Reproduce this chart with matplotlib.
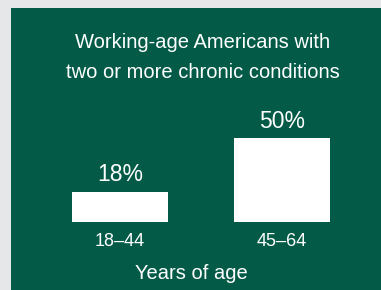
import matplotlib
matplotlib.use("Agg")
import matplotlib.pyplot as plt

# data
age_groups = ["18\u201344", "45\u201364"]
pct_chronic = [18, 50]

green = "#035B47"
plt.rcParams["font.family"] = ["Liberation Sans", "DejaVu Sans"]

W, H = 381, 290
fig = plt.figure(figsize=(W / 100, H / 100), dpi=100)
fig.patch.set_facecolor("#E6E7E8")

# green panel (pixels: x 11..381, y 8..290 from top)
ax = fig.add_axes([11 / W, 0, 370 / W, (H - 8) / H])
ax.set_facecolor(green)
for s in ax.spines.values():
    s.set_visible(False)
ax.set_xticks([])
ax.set_yticks([])

xs = range(len(age_groups))
ax.bar(xs, pct_chronic, width=0.593, color="white")
ax.set_xlim(-0.673, 1.611)
ax.set_ylim(-40.5, 127.4)

for x, v, lab in zip(xs, pct_chronic, age_groups):
    ax.text(x, v + 10, f"{v}%", color="white", fontsize=16.5, ha="center", va="center")
    ax.text(x, -11.9, lab, color="white", fontsize=13, ha="center", va="center")

ax.text(0.5 * (xs[0] + xs[-1]) - 0.06, -30.4, "Years of age", color="white",
        fontsize=14.5, ha="center", va="center")

fig.text(203 / W, 1 - 42 / H, "Working-age Americans with", color="white",
         fontsize=14.5, ha="center", va="center")
fig.text(203 / W, 1 - 72 / H, "two or more chronic conditions", color="white",
         fontsize=14.5, ha="center", va="center")

fig.savefig("out.png", dpi=100, facecolor=fig.get_facecolor())
